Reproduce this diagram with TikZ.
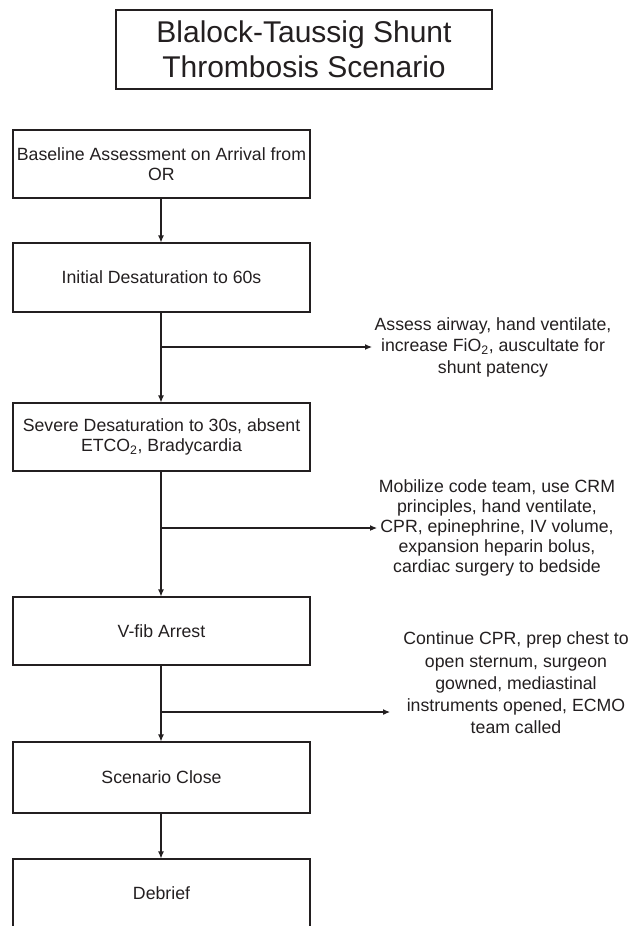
\documentclass[tikz,border=0pt]{standalone}
\usepackage{fontspec}
\setmainfont{Liberation Sans}
\usetikzlibrary{arrows.meta}
\definecolor{ink}{RGB}{35,31,32}
\begin{document}
\begin{tikzpicture}[x=1pt,y=-1pt,
  every node/.style={text=ink},
  boxnode/.style={draw=ink, line width=1.1pt, minimum width=297pt, inner sep=0pt, align=center, font=\fontsize{17.7}{20.5}\selectfont},
  titlenode/.style={draw=ink, line width=1.1pt, minimum width=376pt, minimum height=79pt, inner sep=0pt, align=center, font=\fontsize{30}{35}\selectfont},
  sidetext/.style={inner sep=0pt, align=center, font=\fontsize{17.7}{21.5}\selectfont},
  flow/.style={draw=ink, line width=1.1pt, -{Latex[length=7pt,width=6pt]}},
  branch/.style={draw=ink, line width=1.1pt}]
\clip (0,0) rectangle (631,926);
\node[titlenode] (title) at (304,49.5) {Blalock-Taussig Shunt\\Thrombosis Scenario};
\node[boxnode, minimum height=68pt] (b1) at (161.5,164) {Baseline Assessment on Arrival from\\OR};
\node[boxnode, minimum height=69pt] (b2) at (161.5,277.5) {Initial Desaturation to 60s};
\node[boxnode, minimum height=68pt] (b3) at (161.5,437) {Severe Desaturation to 30s, absent\\ETCO\textsubscript{2}, Bradycardia};
\node[boxnode, minimum height=68pt] (b4) at (161.5,631) {V-fib Arrest};
\node[boxnode, minimum height=71pt] (b5) at (161.5,777.5) {Scenario Close};
\node[boxnode, minimum height=68pt] (b6) at (161.5,893) {Debrief};
\node[sidetext] (s1) at (493,347) {Assess airway, hand ventilate,\\increase FiO\textsubscript{2}, auscultate for\\shunt patency};
\node[sidetext, font=\fontsize{17.7}{20}\selectfont] (s2) at (497,528) {Mobilize code team, use CRM\\principles, hand ventilate,\\CPR, epinephrine, IV volume,\\expansion heparin bolus,\\cardiac surgery to bedside};
\node[sidetext, font=\fontsize{17.7}{22.2}\selectfont] (s3) at (516,683) {Continue CPR, prep chest to\\open sternum, surgeon\\gowned, mediastinal\\instruments opened, ECMO\\team called};
\coordinate (j1) at (161,347);
\coordinate (e1) at (372,347);
\coordinate (j2) at (161,528);
\coordinate (e2) at (377,528);
\coordinate (j3) at (161,712);
\coordinate (e3) at (390,712);
\draw[flow] (b1.south -| j1) -- (b2.north -| j1);
\draw[flow] (b2.south -| j1) -- (b3.north -| j1);
\draw[flow] (b3.south -| j1) -- (b4.north -| j1);
\draw[flow] (b4.south -| j1) -- (b5.north -| j1);
\draw[flow] (b5.south -| j1) -- (b6.north -| j1);
\draw[flow] (j1) -- (e1);
\draw[flow] (j2) -- (e2);
\draw[flow] (j3) -- (e3);
\end{tikzpicture}
\end{document}
